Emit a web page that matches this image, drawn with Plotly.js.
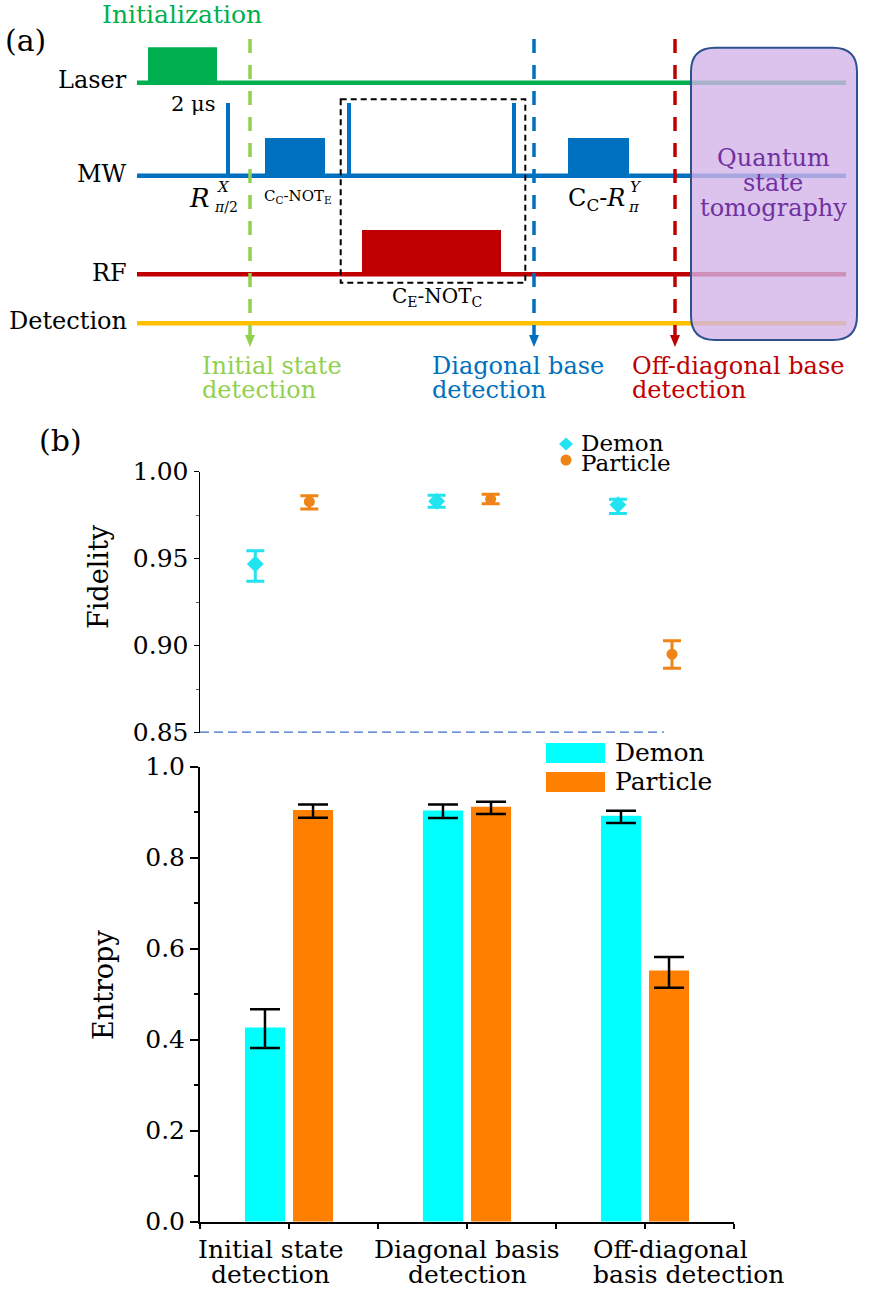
<!DOCTYPE html>
<html><head><meta charset="utf-8">
<script src="https://cdn.plot.ly/plotly-3.0.1.min.js"></script>
<style>html,body{margin:0;padding:0;background:#fff}#chart{width:876px;height:1292px}</style>
</head><body><div id="chart"></div>
<script>
// ---------------- data ----------------
const categories = ['Initial state detection', 'Diagonal basis detection', 'Off-diagonal basis detection'];
const catLine1 = ['Initial state', 'Diagonal basis', 'Off-diagonal'];
const catLine2 = ['detection', 'detection', 'basis detection'];
const seriesNames = ['Demon', 'Particle'];

const fidDemon      = [0.947, 0.983, 0.981];
const fidDemonHi    = [0.9545, 0.9865, 0.9842];
const fidDemonLo    = [0.937, 0.9795, 0.976];
const fidParticle   = [0.9828, 0.9842, 0.8951];
const fidParticleHi = [0.9862, 0.987, 0.9029];
const fidParticleLo = [0.9786, 0.9816, 0.8871];

const entDemon      = [0.427, 0.904, 0.892];
const entDemonHi    = [0.467, 0.917, 0.903];
const entDemonLo    = [0.382, 0.887, 0.876];
const entParticle   = [0.905, 0.912, 0.552];
const entParticleHi = [0.917, 0.923, 0.582];
const entParticleLo = [0.888, 0.896, 0.514];

const fidTickVals = [0.85, 0.90, 0.95, 1.00];
const entTickVals = [0, 0.2, 0.4, 0.6, 0.8, 1.0];

// pulse sequence (timeline units of the schematic)
const channels      = ['Laser', 'MW', 'RF', 'Detection'];
const pulseChannel  = ['Laser', 'MW', 'MW', 'MW', 'MW', 'RF', 'MW'];
const pulseStart    = [148, 226, 265, 347, 512, 362, 568];
const pulseEnd      = [217, 230, 325, 351, 516, 501, 629];
const pulseHeight   = [35.4, 72.7, 37.7, 72.7, 72.7, 44.3, 37.7];
const detectionTimes = [250, 534, 675];
const detectionText1 = ['Initial state', 'Diagonal base', 'Off-diagonal base'];
const detectionText2 = ['detection', 'detection', 'detection'];

// ---------------- styles ----------------
const FONT = 'DejaVu Serif';
const CYAN_BAR = '#00FFFF', ORANGE_BAR = '#FF8000';
const CYAN_PT = '#22e4f0', ORANGE_PT = '#ef8418';
const chanY = {Laser: 82.7, MW: 175.7, RF: 274.3, Detection: 323.3};
const chanColor = {Laser: '#00b050', MW: '#0070c0', RF: '#c00000', Detection: '#ffc000'};
const detColors = ['#92d050', '#0070c0', '#c00000'];
const detLabelX = [200, 430, 630];
const lineStart = 137, lineEnd = 846;

const catPos = categories.map((c, i) => 2 * i + 1);
const fidIdx = categories.map((c, i) => i);
const up = (hi, v) => hi.map((h, i) => +(h - v[i]).toFixed(4));
const dn = (lo, v) => lo.map((l, i) => +(v[i] - l).toFixed(4));

const traces = [
  {type: 'bar', name: seriesNames[0], x: catPos, y: entDemon, xaxis: 'x', yaxis: 'y',
   width: 0.45, offset: -0.495, marker: {color: CYAN_BAR, line: {width: 0}},
   error_y: {type: 'data', symmetric: false, array: up(entDemonHi, entDemon), arrayminus: dn(entDemonLo, entDemon),
             color: '#000', thickness: 2.5, width: 15}},
  {type: 'bar', name: seriesNames[1], x: catPos, y: entParticle, xaxis: 'x', yaxis: 'y',
   width: 0.45, offset: 0.045, marker: {color: ORANGE_BAR, line: {width: 0}},
   error_y: {type: 'data', symmetric: false, array: up(entParticleHi, entParticle), arrayminus: dn(entParticleLo, entParticle),
             color: '#000', thickness: 2.5, width: 15}},
  {type: 'scatter', mode: 'markers', name: seriesNames[0], x: fidIdx.map(i => i - 0.149), y: fidDemon,
   xaxis: 'x2', yaxis: 'y2', marker: {symbol: 'diamond', size: 13, color: CYAN_PT},
   error_y: {type: 'data', symmetric: false, array: up(fidDemonHi, fidDemon), arrayminus: dn(fidDemonLo, fidDemon),
             color: CYAN_PT, thickness: 3, width: 9}},
  {type: 'scatter', mode: 'markers', name: seriesNames[1], x: fidIdx.map(i => i + 0.149), y: fidParticle,
   xaxis: 'x2', yaxis: 'y2', marker: {symbol: 'circle', size: 11, color: ORANGE_PT},
   error_y: {type: 'data', symmetric: false, array: up(fidParticleHi, fidParticle), arrayminus: dn(fidParticleLo, fidParticle),
             color: ORANGE_PT, thickness: 3, width: 9}}
];

// ---------------- shapes (schematic) ----------------
const S = (o) => Object.assign({xref: 'x3', yref: 'y3', layer: 'above'}, o);
const shapes = [];
channels.forEach(ch => {
  shapes.push(S({type: 'line', x0: lineStart, x1: lineEnd, y0: chanY[ch], y1: chanY[ch],
                 line: {color: chanColor[ch], width: 4.5}}));
});
pulseChannel.forEach((ch, i) => {
  shapes.push(S({type: 'rect', x0: pulseStart[i], x1: pulseEnd[i], y0: chanY[ch] - pulseHeight[i], y1: chanY[ch],
                 fillcolor: chanColor[ch], line: {width: 0}}));
});
detectionTimes.forEach((t, i) => {
  shapes.push(S({type: 'line', x0: t, x1: t, y0: 39, y1: 336, line: {color: detColors[i], width: 3.5, dash: '14px,12px'}}));
  shapes.push(S({type: 'path', path: `M ${t - 5},335 L ${t + 5},335 L ${t},347 Z`, fillcolor: detColors[i], line: {width: 0}}));
});
shapes.push(S({type: 'rect', x0: 340.7, x1: 525.3, y0: 99.3, y1: 282.7, line: {color: '#000', width: 2, dash: '6px,4px'}}));
(function () {
  const x0 = 691, x1 = 857, y0 = 47.7, y1 = 340, r = 24;
  const p = `M ${x0 + r},${y0} L ${x1 - r},${y0} Q ${x1},${y0} ${x1},${y0 + r} L ${x1},${y1 - r} Q ${x1},${y1} ${x1 - r},${y1} ` +
            `L ${x0 + r},${y1} Q ${x0},${y1} ${x0},${y1 - r} L ${x0},${y0 + r} Q ${x0},${y0} ${x0 + r},${y0} Z`;
  shapes.push(S({type: 'path', path: p, fillcolor: 'rgba(210,180,232,0.8)', line: {color: '#2f528f', width: 2}}));
})();
shapes.push({type: 'line', xref: 'x2 domain', yref: 'y2', x0: 0, x1: 0.869, y0: 0.85, y1: 0.85, layer: 'above',
             line: {color: '#3d6cc8', width: 2.5, dash: '9px,5px'}});
shapes.push(S({type: 'path', path: 'M 559,444 L 566,437.5 L 573,444 L 566,450.5 Z', fillcolor: CYAN_PT, line: {width: 0}}));
shapes.push(S({type: 'circle', x0: 560.5, x1: 571.5, y0: 454.5, y1: 465.5, fillcolor: ORANGE_PT, line: {width: 0}}));
shapes.push(S({type: 'rect', x0: 546, x1: 605, y0: 743, y1: 763, fillcolor: CYAN_BAR, line: {width: 0}}));
shapes.push(S({type: 'rect', x0: 546, x1: 605, y0: 772, y1: 792, fillcolor: ORANGE_BAR, line: {width: 0}}));

// ---------------- annotations ----------------
const A = (text, x, y, size, color, xanchor, extra) => Object.assign({
  xref: 'x3', yref: 'y3', x: x, y: y, text: text, showarrow: false,
  xanchor: xanchor || 'center', yanchor: 'middle',
  font: {family: FONT, size: size, color: color || '#000'}
}, extra || {});
const annotations = [
  A('(a)', 25, 40, 30),
  A('Initialization', 182, 14, 25, '#00b050'),
  A('Laser', 129, 80, 24, '#000', 'right'),
  A('MW', 129, 174, 24, '#000', 'right'),
  A('RF', 129, 273, 24, '#000', 'right'),
  A('Detection', 129, 321, 24, '#000', 'right'),
  A('2 μs', 193, 104, 21),
  A('<i>R</i>', 199, 198, 26),
  A('<i>X</i>', 223, 187, 15),
  A('<i>π</i>/2', 226, 207, 14),
  A('C<sub>C</sub>-NOT<sub>E</sub>', 298, 196, 15),
  A('C<sub>E</sub>-NOT<sub>C</sub>', 437, 297, 20),
  A('C<sub>C</sub>-<i>R</i>', 627, 199, 24, '#000', 'right'),
  A('<i>Y</i>', 628, 187, 15, '#000', 'left'),
  A('<i>π</i>', 626, 207, 15, '#000', 'left'),
  A('Quantum', 773, 158, 24, '#7030a0'),
  A('state', 773, 183, 24, '#7030a0'),
  A('tomography', 773, 208, 24, '#7030a0'),
  A('(b)', 60, 440, 30),
  A('Fidelity', 98, 577, 27, '#000', 'center', {textangle: -90}),
  A('Entropy', 103, 985, 27, '#000', 'center', {textangle: -90}),
  A(seriesNames[0], 579, 443, 23, '#000', 'left'),
  A(seriesNames[1], 579, 463, 23, '#000', 'left'),
  A(seriesNames[0], 613, 752, 25, '#000', 'left'),
  A(seriesNames[1], 613, 781, 25, '#000', 'left')
];
detectionTimes.forEach((t, i) => {
  annotations.push(A(detectionText1[i], detLabelX[i], 366, 24, detColors[i], 'left'));
  annotations.push(A(detectionText2[i], detLabelX[i], 390, 24, detColors[i], 'left'));
});
const labAnchor = ['center', 'center', 'left'];
const labShift = [-19, 0, -54];
categories.forEach((c, i) => {
  [catLine1[i], catLine2[i]].forEach((t, k) => {
    annotations.push({xref: 'x', yref: 'y3', x: catPos[i], y: k === 0 ? 1249 : 1274, text: t, showarrow: false,
      xanchor: labAnchor[i], yanchor: 'middle', xshift: labShift[i], font: {family: FONT, size: 25, color: '#000'}});
  });
});

// ---------------- layout ----------------
const xDom = [200 / 876, 734 / 876];
const layout = {
  width: 876, height: 1292,
  margin: {l: 0, r: 0, t: 0, b: 0, pad: 0},
  paper_bgcolor: '#fff', plot_bgcolor: 'rgba(0,0,0,0)',
  showlegend: false, barmode: 'overlay',
  font: {family: FONT, color: '#000'},
  xaxis: {domain: xDom, range: [0, 6], anchor: 'y', tickvals: [0, 1, 2, 3, 4, 5, 6], showticklabels: false,
          ticks: 'outside', ticklen: 5, tickwidth: 2, tickcolor: '#000',
          showline: true, linewidth: 2, linecolor: '#000', showgrid: false, zeroline: false, fixedrange: true},
  yaxis: {domain: [1 - 1221.7 / 1292, 1 - 766.7 / 1292], range: [0, 1], anchor: 'x',
          tickvals: entTickVals, tickformat: '.1f', ticks: 'outside', ticklen: 8, tickwidth: 2, tickcolor: '#000',
          minor: {tickvals: [0.1, 0.3, 0.5, 0.7, 0.9], ticks: 'outside', ticklen: 4, tickwidth: 1.5, tickcolor: '#000'},
          tickfont: {family: FONT, size: 25, color: '#000'},
          showline: true, linewidth: 2, linecolor: '#000', showgrid: false, zeroline: false, fixedrange: true},
  xaxis2: {domain: xDom, range: [-0.454, 2.491], anchor: 'y2', visible: false, fixedrange: true},
  yaxis2: {domain: [1 - 732.7 / 1292, 1 - 471.7 / 1292], range: [0.85, 1.0], anchor: 'x2',
           tickvals: fidTickVals, tickformat: '.2f', ticks: 'outside', ticklen: 5, tickwidth: 1.5, tickcolor: '#000',
           minor: {tickvals: [0.875, 0.925, 0.975], ticks: 'outside', ticklen: 3, tickwidth: 1, tickcolor: '#555'},
           tickfont: {family: FONT, size: 25, color: '#000'},
           showline: true, linewidth: 1.5, linecolor: '#000', showgrid: false, zeroline: false, fixedrange: true},
  xaxis3: {domain: [0, 1], range: [0, 876], anchor: 'y3', visible: false, fixedrange: true},
  yaxis3: {domain: [0, 1], range: [1292, 0], anchor: 'x3', visible: false, fixedrange: true},
  shapes: shapes,
  annotations: annotations
};

Plotly.newPlot('chart', traces, layout, {displayModeBar: false, staticPlot: true});
</script>
</body></html>
